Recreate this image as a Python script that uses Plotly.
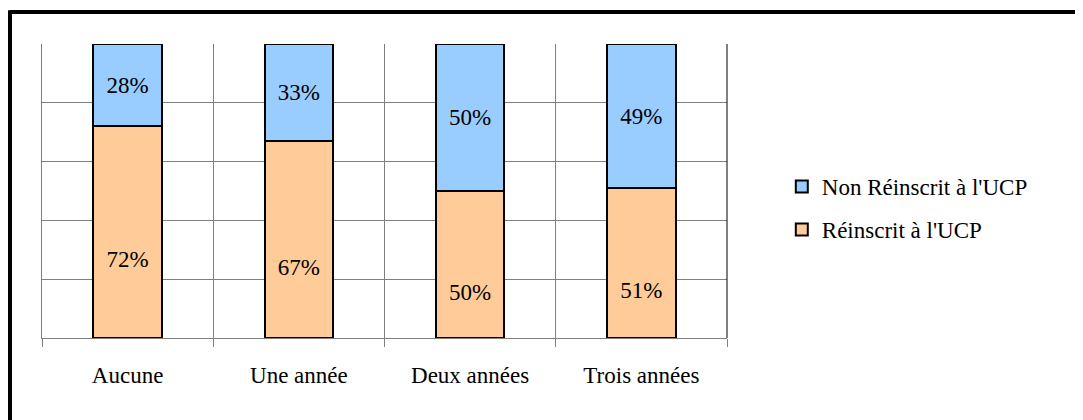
import plotly.graph_objects as go

categories = ["Aucune", "Une année", "Deux années", "Trois années"]
reinscrit = [0.72, 0.67, 0.50, 0.51]
non_reinscrit = [0.28, 0.33, 0.50, 0.49]
y_ticks = [0, 0.2, 0.4, 0.6, 0.8, 1.0]

# Excel put the lower labels midway between -0.2 and the top of the segment
LABEL_BASE = -0.2

ORANGE = "#FFCC99"
BLUE = "#99CCFF"
GRID = "#808080"
FONT = "Liberation Serif"
SIZE = 23

fig = go.Figure()

fig.add_trace(go.Bar(
    x=categories, y=reinscrit, name="Réinscrit à l'UCP",
    marker={'color': ORANGE, 'line': {'color': 'black', 'width': 2}},
    width=0.4, textposition='none', legendgroup='b', legendrank=2,
))
fig.add_trace(go.Bar(
    x=categories, y=non_reinscrit, name="Non Réinscrit à l'UCP",
    marker={'color': BLUE, 'line': {'color': 'black', 'width': 2}},
    width=0.4, text=[f"{round(v * 100)}%" for v in non_reinscrit],
    textposition='inside', insidetextanchor='middle',
    textfont={'family': FONT, 'size': SIZE, 'color': 'black'},
    legendgroup='a', legendrank=1,
))
fig.add_trace(go.Scatter(
    x=categories, y=[(v + LABEL_BASE) / 2 for v in reinscrit],
    mode='text', text=[f"{round(v * 100)}%" for v in reinscrit],
    textfont={'family': FONT, 'size': SIZE, 'color': 'black'},
    showlegend=False, hoverinfo='skip',
))

# the page body adds an 8px margin, so the figure is 8px smaller
fig.update_layout(
    barmode='stack',
    width=1075, height=412,
    margin={'l': 34, 'r': 356, 't': 36, 'b': 82},
    paper_bgcolor='white', plot_bgcolor='white',
    font={'family': FONT, 'size': SIZE, 'color': 'black'},
    showlegend=True,
    legend={
        'x': 1.08, 'y': 0.442, 'xanchor': 'left', 'yanchor': 'middle',
        'traceorder': 'grouped', 'tracegroupgap': 10,
        'font': {'family': FONT, 'size': SIZE, 'color': 'black'},
        'bgcolor': 'rgba(0,0,0,0)',
    },
    xaxis={
        'type': 'category', 'tickson': 'boundaries', 'showgrid': True,
        'gridcolor': GRID, 'gridwidth': 1, 'ticks': 'outside', 'ticklen': 8,
        'tickcolor': GRID, 'showline': True, 'linecolor': GRID, 'linewidth': 1,
        'ticklabelstandoff': 16, 'zeroline': False,
    },
    yaxis={
        'range': [0, 1], 'tickvals': y_ticks, 'showticklabels': False,
        'showgrid': True, 'gridcolor': GRID, 'gridwidth': 1,
        'showline': True, 'linecolor': GRID, 'zeroline': False,
    },
)

# right edge of the plot area and the cropped outer frame
fig.add_shape(type='line', xref='paper', yref='paper', x0=1, x1=1, y0=0, y1=1,
              line={'color': 'black', 'width': 1})
fig.add_shape(type='line', xref='paper', yref='paper', x0=-0.0467, x1=1.6,
              y0=1.109, y1=1.109, line={'color': 'black', 'width': 4})
fig.add_shape(type='line', xref='paper', yref='paper', x0=-0.0467, x1=-0.0467,
              y0=-0.4, y1=1.109 + 0.006, line={'color': 'black', 'width': 4})

fig.write_html("out.html")
